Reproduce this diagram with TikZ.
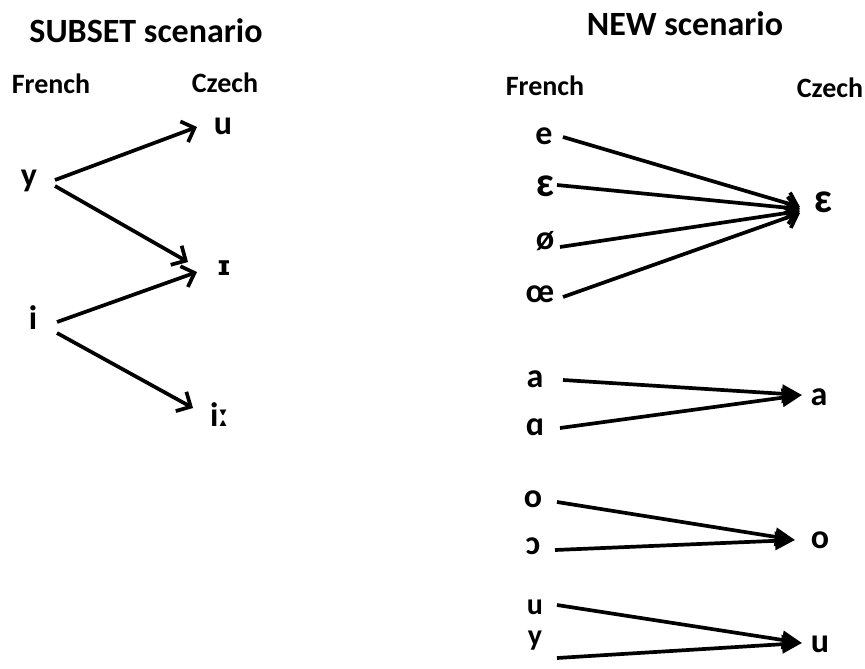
\documentclass[tikz,border=0pt]{standalone}
\usepackage{fontspec}
\setmainfont{Carlito}
\newfontfamily\ipafont{DejaVu Sans}
\usetikzlibrary{arrows.meta}
\begin{document}
\begin{tikzpicture}[x=1pt,y=-1pt,
  ttl/.style={font=\fontsize{34}{36}\selectfont\bfseries, inner sep=0pt},
  lbl/.style={font=\fontsize{28}{30}\selectfont\bfseries, inner sep=0pt},
  ph/.style={font=\fontsize{34}{36}\selectfont\bfseries, inner sep=0pt, text height=15.5pt, text depth=0pt},
  smallph/.style={ph, font=\fontsize{30}{32}\selectfont\bfseries, text height=14pt},
  bigph/.style={ph, font=\fontsize{42}{44}\selectfont\bfseries, text height=19pt},
  openarr/.style={line width=3.7pt, -{Straight Barb[length=11pt,width=22pt]}},
  fillarr/.style={line width=3.7pt, -{Triangle[length=20pt,width=18pt]}}
]
\useasboundingbox (0,0) rectangle (865,669);
% ---------- SUBSET scenario ----------
\node[ttl] (t1) at (146,31) {SUBSET scenario};
\node[lbl] (fr1) at (51,84) {French};
\node[lbl] (cz1) at (225,83) {Czech};
\node[ph] (ly) at (29,179) {y};
\node[ph] (li) at (33,322) {i};
\node[ph] (ru) at (223,127) {u};
\node[ph] (rI) at (224,268) {\fontsize{27}{30}\ipafont\bfseries ɪ};
\node[ph] (rii) at (219,419) {iː};
\draw[openarr] ([shift={(26,1)}]ly.center) -- ([shift={(-26,0)}]ru.center);
\draw[openarr] ([shift={(26,7)}]ly.center) -- ([shift={(-36,-6)}]rI.center);
\draw[openarr] ([shift={(24,0)}]li.center) -- ([shift={(-27,4)}]rI.center);
\draw[openarr] ([shift={(24,11)}]li.center) -- ([shift={(-26,-11)}]rii.center);
% ---------- NEW scenario ----------
\node[ttl] (t2) at (685,24) {NEW scenario};
\node[lbl] (fr2) at (545,86) {French};
\node[lbl] (cz2) at (830,88) {Czech};
\node[ph] (fe) at (544,137) {e};
\node[bigph] (feps) at (545,187) {ɛ};
\node[ph] (foe) at (545,242) {ø};
\node[ph] (foel) at (540,295) {œ};
\node[bigph] (ceps) at (823,203) {ɛ};
\draw[openarr] ([shift={(19,0)}]fe.center) -- ([shift={(-23,4)}]ceps.center);
\draw[openarr] ([shift={(12,-2)}]feps.center) -- ([shift={(-23,6)}]ceps.center);
\draw[openarr] ([shift={(15,5)}]foe.center) -- ([shift={(-23,8)}]ceps.center);
\draw[openarr] ([shift={(23,2)}]foel.center) -- ([shift={(-23,10)}]ceps.center);
\node[ph] (fa) at (535,380) {a};
\node[ph] (falpha) at (535,428) {ɑ};
\node[ph] (ca) at (819,398) {a};
\draw[fillarr] ([shift={(28,0)}]fa.center) -- ([shift={(-17,-3)}]ca.center);
\draw[fillarr] ([shift={(25,0)}]falpha.center) -- ([shift={(-17,-3)}]ca.center);
\node[ph] (fo) at (533,500) {o};
\node[ph] (fopen) at (533,547) {ɔ};
\node[ph] (co) at (820,541) {o};
\draw[fillarr] ([shift={(24,2)}]fo.center) -- ([shift={(-25,-1)}]co.center);
\draw[fillarr] ([shift={(22,3)}]fopen.center) -- ([shift={(-25,-1)}]co.center);
\node[smallph] (fu) at (535,607) {u};
\node[smallph] (fy) at (535,638) {y};
\node[ph] (cu) at (820,645) {u};
\draw[fillarr] ([shift={(22,-2)}]fu.center) -- ([shift={(-18,-2)}]cu.center);
\draw[fillarr] ([shift={(22,20)}]fy.center) -- ([shift={(-18,-2)}]cu.center);
\end{tikzpicture}
\end{document}
